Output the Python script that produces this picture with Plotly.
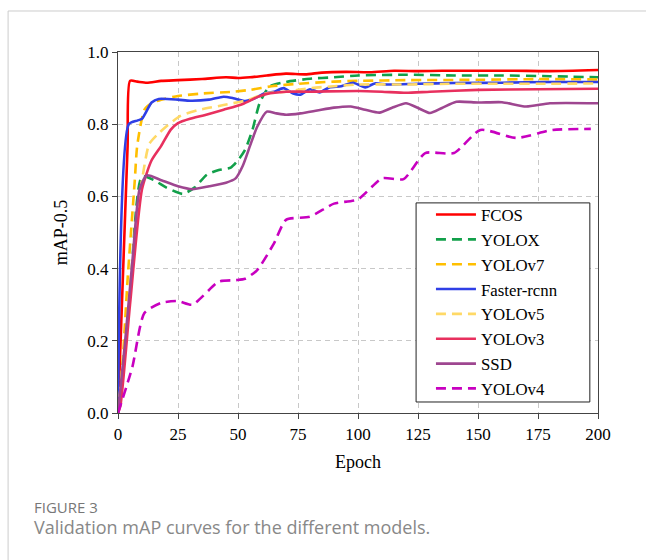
import plotly.graph_objects as go

# ---------------- data ----------------
fcos_ep = [0, 2, 4, 5, 8, 12, 18, 25, 35, 45, 50, 55, 62, 70, 78, 85, 95, 105, 115, 125, 135, 150, 165, 180, 200]
fcos_v = [0, 0.37, 0.74, 0.92, 0.918, 0.915, 0.92, 0.922, 0.925, 0.93, 0.928, 0.93, 0.935, 0.94, 0.938, 0.943, 0.945, 0.944, 0.948, 0.947, 0.948, 0.948, 0.948, 0.947, 0.95]

yolox_ep = [0, 5, 10, 15, 20, 27, 32, 37, 42, 47, 50, 53, 56, 59, 63, 70, 80, 90, 100, 120, 140, 160, 180, 200]
yolox_v = [0, 0.33, 0.655, 0.645, 0.625, 0.607, 0.625, 0.66, 0.673, 0.68, 0.70, 0.73, 0.784, 0.858, 0.904, 0.917, 0.926, 0.93, 0.935, 0.937, 0.935, 0.935, 0.933, 0.93]

yolov7_ep = [0, 2, 4, 7, 8, 11, 14, 18, 25, 35, 48, 55, 64, 75, 90, 100, 120, 150, 175, 200]
yolov7_v = [0, 0.15, 0.37, 0.645, 0.74, 0.84, 0.858, 0.868, 0.878, 0.885, 0.89, 0.895, 0.905, 0.912, 0.918, 0.92, 0.922, 0.923, 0.925, 0.924]

frcnn_ep = [0, 4.5, 8, 10, 14, 17, 25, 30, 38, 44, 48, 53, 57, 61, 65, 69, 73, 76, 80, 84, 88, 93, 98, 103, 107, 112, 125, 140, 160, 180, 200]
frcnn_v = [0, 0.80, 0.81, 0.815, 0.86, 0.87, 0.868, 0.865, 0.868, 0.876, 0.872, 0.864, 0.872, 0.885, 0.89, 0.9, 0.885, 0.882, 0.897, 0.888, 0.902, 0.905, 0.915, 0.902, 0.913, 0.91, 0.912, 0.914, 0.915, 0.917, 0.917]

yolov5_ep = [0, 3, 6, 8, 10, 13, 17, 20, 26, 34, 44, 54, 62, 70, 80, 90, 100, 120, 140, 160, 180, 200]
yolov5_v = [0, 0.2, 0.42, 0.56, 0.645, 0.745, 0.775, 0.793, 0.823, 0.84, 0.853, 0.867, 0.886, 0.89, 0.9, 0.905, 0.91, 0.91, 0.912, 0.912, 0.912, 0.913]

yolov3_ep = [0, 1, 5, 10, 14, 18, 22, 25, 30, 36, 44, 52, 58, 62, 70, 80, 100, 110, 120, 130, 150, 175, 200]
yolov3_v = [0, 0.02, 0.3, 0.62, 0.7, 0.74, 0.785, 0.803, 0.815, 0.825, 0.84, 0.856, 0.875, 0.884, 0.89, 0.89, 0.892, 0.89, 0.887, 0.89, 0.895, 0.897, 0.898]

ssd_ep = [0, 3, 6, 9, 12, 18, 25, 31, 38, 45, 49, 52, 55, 58, 62, 66, 70, 76, 83, 90, 97, 103, 109, 114, 120, 125, 130, 135, 141, 150, 160, 170, 180, 200]
ssd_v = [0, 0.2, 0.42, 0.62, 0.658, 0.645, 0.628, 0.62, 0.628, 0.638, 0.65, 0.685, 0.74, 0.793, 0.835, 0.83, 0.826, 0.83, 0.838, 0.846, 0.849, 0.84, 0.832, 0.845, 0.858, 0.845, 0.831, 0.845, 0.862, 0.86, 0.861, 0.849, 0.858, 0.858]

yolov4_ep = [0, 6, 11, 18, 25, 31, 42, 49, 53, 58, 65, 70, 80, 90, 100, 110, 119, 128, 140, 151, 166, 181, 197]
yolov4_v = [0, 0.128, 0.277, 0.305, 0.31, 0.30, 0.364, 0.368, 0.372, 0.396, 0.47, 0.535, 0.544, 0.58, 0.592, 0.65, 0.648, 0.72, 0.72, 0.784, 0.762, 0.784, 0.787]

x_ticks = [0, 25, 50, 75, 100, 125, 150, 175, 200]
y_ticks = [0.0, 0.2, 0.4, 0.6, 0.8, 1.0]
y_labels = ["0.0", "0.2", "0.4", "0.6", "0.8", "1.0"]

series = [
    ("FCOS", fcos_ep, fcos_v, "#FF0000", "solid"),
    ("YOLOX", yolox_ep, yolox_v, "#12A04A", "10px,6px"),
    ("YOLOv7", yolov7_ep, yolov7_v, "#FFBF00", "10px,6px"),
    ("Faster-rcnn", frcnn_ep, frcnn_v, "#2F3FE6", "solid"),
    ("YOLOv5", yolov5_ep, yolov5_v, "#FFD966", "10px,6px"),
    ("YOLOv3", yolov3_ep, yolov3_v, "#E8305E", "solid"),
    ("SSD", ssd_ep, ssd_v, "#9E4690", "solid"),
    ("YOLOv4", yolov4_ep, yolov4_v, "#C800C0", "10px,6px"),
]

fig = go.Figure()
for name, ep, v, color, dash in series:
    fig.add_trace(go.Scatter(
        x=ep, y=v, name=name, mode="lines",
        line=dict(color=color, width=2.6, dash=dash, shape="spline", smoothing=0.6),
    ))

serif = "Liberation Serif, Times New Roman, serif"

fig.update_layout(
    width=646, height=560,
    margin=dict(l=118, r=48, t=52, b=147),
    paper_bgcolor="white", plot_bgcolor="white",
    font=dict(family=serif, size=17, color="black"),
    showlegend=True,
    legend=dict(
        x=0.652, y=0.598, xanchor="left", yanchor="top",
        bgcolor="rgba(0,0,0,0)", borderwidth=0,
        font=dict(family=serif, size=16.8, color="black"),
        tracegroupgap=0, itemwidth=40,
    ),
    xaxis=dict(
        range=[0, 200], tickvals=x_ticks, ticks="outside", ticklen=5,
        showline=True, linecolor="#444", linewidth=1.2, mirror=True,
        showgrid=True, gridcolor="#c8c8c8", griddash="5px,4px", gridwidth=1,
        zeroline=False, title=dict(text="Epoch", font=dict(family=serif, size=18), standoff=12),
        tickfont=dict(family=serif, size=17),
    ),
    yaxis=dict(
        range=[0, 1.0], tickvals=y_ticks, ticktext=y_labels, ticks="outside", ticklen=5,
        showline=True, linecolor="#444", linewidth=1.2, mirror=True,
        showgrid=True, gridcolor="#c8c8c8", griddash="5px,4px", gridwidth=1,
        zeroline=False, title=dict(text="mAP-0.5", font=dict(family=serif, size=18), standoff=14),
        tickfont=dict(family=serif, size=17),
    ),
    shapes=[
        dict(type="rect", xref="paper", yref="paper",
             x0=-0.229, x1=1.12, y0=-0.45, y1=1.1136,
             line=dict(color="#cccccc", width=1), fillcolor="rgba(0,0,0,0)", layer="below"),
        dict(type="rect", xref="paper", yref="paper",
             x0=0.621, x1=0.983, y0=0.0305, y1=0.582,
             line=dict(color="#222222", width=1), fillcolor="white", layer="above"),
    ],
    annotations=[
        dict(text="FIGURE 3", xref="paper", yref="paper", x=-0.179, y=-0.260,
             xanchor="left", yanchor="middle", showarrow=False,
             font=dict(family="Open Sans, sans-serif", size=15, color="#777777")),
        dict(text="Validation mAP curves for the different models.", xref="paper", yref="paper",
             x=-0.179, y=-0.316, xanchor="left", yanchor="middle", showarrow=False,
             font=dict(family="Open Sans, sans-serif", size=18, color="#888888")),
    ],
)

fig.write_html("out.html")
